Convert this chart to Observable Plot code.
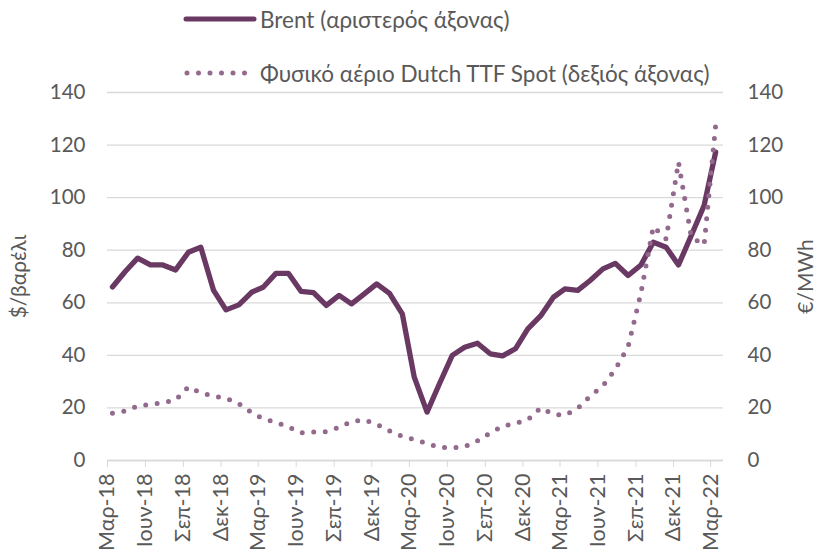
<!DOCTYPE html>
<html>
<head>
<meta charset="utf-8">
<script src="https://cdn.jsdelivr.net/npm/d3@7"></script>
<script src="https://cdn.jsdelivr.net/npm/@observablehq/plot@0.6"></script>
<style>
  html, body { margin: 0; padding: 0; background: #fff; }
  #wrap { position: relative; width: 819px; height: 554px; overflow: hidden; font-family: Lato, "Open Sans", sans-serif; }
  #legend { position: absolute; left: 0; top: 0; width: 819px; height: 86px; z-index: 2; }
  .lrow { position: absolute; left: 183px; height: 26px; display: flex; align-items: center; font-size: 22.5px; color: #595959; white-space: nowrap; }
  .lrow svg { margin-right: 3px; }
  #chart { position: absolute; left: 0; top: 80px; z-index: 1; }
</style>
</head>
<body>
<div id="wrap">
  <div id="legend"></div>
  <div id="chart"></div>
</div>
<script>
// Series names
const seriesNames = ["Brent (αριστερός άξονας)", "Φυσικό αέριο Dutch TTF Spot (δεξιός άξονας)"];

// Monthly values, Mar-18 .. Mar-22
const brent = [
  66, 71.9, 77, 74.4, 74.4, 72.5, 79.2, 81.1, 64.7, 57.3,
  59.2, 64, 65.9, 71.2, 71.2, 64.3, 63.9, 59, 62.8, 59.6, 63.4, 67.2,
  63.6, 55.8, 31.7, 18.4, 29.2, 40, 43.1, 44.6, 40.6, 39.8, 42.5, 50.1,
  55, 62.1, 65.3, 64.7, 68.5, 72.9, 75, 70.4, 74.4, 83, 81.1, 74.4,
  85.6, 97, 117.3
];
const ttf = [
  18, 18.8, 20.7, 21.4, 22, 23, 28, 25.8, 24.5, 23.7,
  21.6, 18.2, 15.9, 14.5, 12.8, 10.5, 10.8, 11, 12.6, 14.8, 15.5, 13.8,
  11.3, 9.2, 8, 6.5, 5, 4.8, 5.2, 7.5, 10.5, 13, 14.2, 15.5,
  20, 17.6, 17.2, 19.8, 24.5, 28.4, 34.7, 43.3, 63.7, 89, 84.3, 113.5,
  85, 82, 127.5
];

// Axis tick labels
const tickLabels = ["Μαρ-18","Ιουν-18","Σεπ-18","Δεκ-18","Μαρ-19","Ιουν-19","Σεπ-19","Δεκ-19",
  "Μαρ-20","Ιουν-20","Σεπ-20","Δεκ-20","Μαρ-21","Ιουν-21","Σεπ-21","Δεκ-21","Μαρ-22"];
const yTicks = [0, 20, 40, 60, 80, 100, 120, 140];
const yLeftLabel = "$/βαρέλι";
const yRightLabel = "€/MWh";

// Build table (first value is March 2018; monthly observations)
const table = brent.map((b, i) => ({ date: new Date(Date.UTC(2018, 2 + i, 13)), brent: b, ttf: ttf[i] }));
const tickDates = tickLabels.map((_, k) => new Date(Date.UTC(2018, 2 + 3 * k, 1)));
const labelByTime = new Map(tickDates.map((d, k) => [+d, tickLabels[k]]));

const brentColor = "#693963";
const ttfColor = "#936a8d";
const grid = "#d9d9d9";
const textColor = "#595959";

const chart = Plot.plot({
  width: 819,
  height: 474,
  marginTop: 12,
  marginBottom: 94,
  marginLeft: 107,
  marginRight: 96,
  x: { type: "utc", domain: [new Date(Date.UTC(2018, 2, 1)), new Date(Date.UTC(2022, 3, 1))] },
  y: { domain: [0, 140] },
  style: { fontFamily: "Lato, 'Open Sans', sans-serif", fontSize: "20px", color: textColor, background: "transparent", overflow: "visible" },
  marks: [
    Plot.gridY(yTicks, { stroke: grid, strokeOpacity: 1, strokeWidth: 1.3 }),
    Plot.axisY(yTicks, { anchor: "left", tickSize: 0, tickPadding: 22, label: null, fontSize: 20.5 }),
    Plot.axisY(yTicks, { anchor: "right", tickSize: 0, tickPadding: 24, label: null, fontSize: 20.5 }),
    Plot.text([yLeftLabel], { frameAnchor: "left", dx: -88, rotate: -90, textAnchor: "middle", fontSize: 21, fill: textColor }),
    Plot.text([yRightLabel], { frameAnchor: "right", dx: 83, rotate: -90, textAnchor: "middle", fontSize: 21, fill: textColor }),
    Plot.ruleY([0], { stroke: grid, strokeWidth: 1.3 }),
    Plot.axisX(tickDates, { tickFormat: d => labelByTime.get(+d), tickRotate: -90, tickSize: 7, tickPadding: 6, stroke: grid, strokeOpacity: 1, label: null, fontSize: 21.5, fill: textColor }),
    Plot.line(table, { x: "date", y: "brent", stroke: brentColor, strokeWidth: 5.3, strokeLinejoin: "round", strokeLinecap: "round" }),
    Plot.line(table, { x: "date", y: "ttf", stroke: ttfColor, strokeWidth: 5, strokeDasharray: "0 11.5", strokeLinecap: "round" })
  ]
});
document.getElementById("chart").appendChild(chart);

// Legend
const legend = document.getElementById("legend");
function addRow(top, name, dashed) {
  const row = document.createElement("div");
  row.className = "lrow";
  row.style.top = top + "px";
  const ns = "http://www.w3.org/2000/svg";
  const s = document.createElementNS(ns, "svg");
  s.setAttribute("width", "74"); s.setAttribute("height", "10");
  const l = document.createElementNS(ns, "line");
  l.setAttribute("x1", dashed ? "4" : "3"); l.setAttribute("x2", dashed ? "64" : "71");
  l.setAttribute("y1", "5"); l.setAttribute("y2", "5");
  l.setAttribute("stroke", dashed ? ttfColor : brentColor);
  l.setAttribute("stroke-width", "5");
  l.setAttribute("stroke-linecap", "round");
  if (dashed) l.setAttribute("stroke-dasharray", "0 11.5");
  s.appendChild(l);
  row.appendChild(s);
  const t = document.createElement("span");
  t.textContent = name;
  row.appendChild(t);
  legend.appendChild(row);
}
addRow(6, seriesNames[0], false);
addRow(60, seriesNames[1], true);
</script>
</body>
</html>
